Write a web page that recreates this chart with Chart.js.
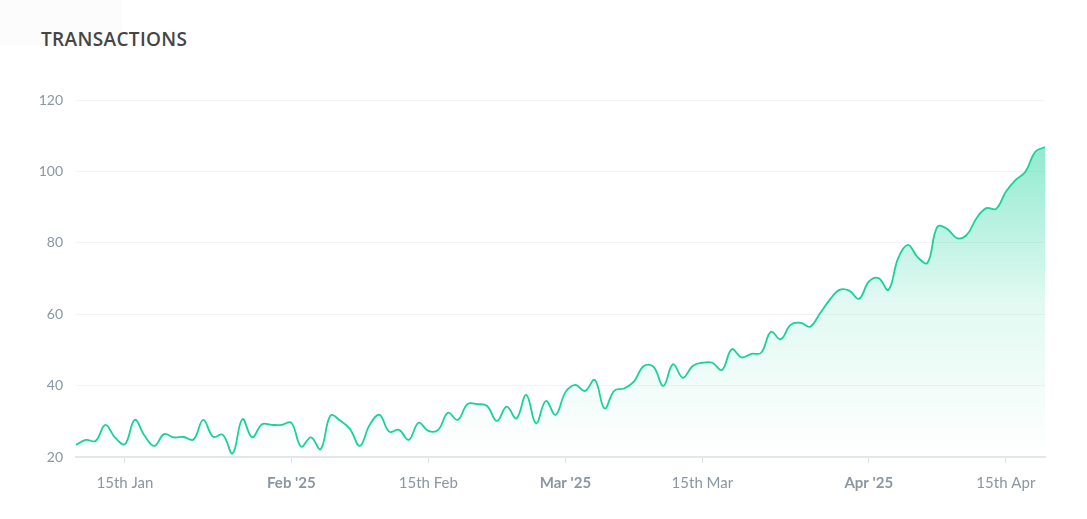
<!DOCTYPE html>
<html>
<head>
<meta charset="utf-8">
<script src="https://cdn.jsdelivr.net/npm/chart.js@4"></script>
<style>
  html, body { margin: 0; padding: 0; background: #fff; }
  #wrap { position: relative; width: 1087px; height: 519px; overflow: hidden; }
  #shade { position: absolute; left: 0; top: 0; width: 122px; height: 45px; background: #fcfcfc; }
  #title {
    position: absolute; left: 41px; top: 26px;
    font-family: "Open Sans", sans-serif; font-weight: 600; font-size: 19px;
    color: #454545; letter-spacing: 0.35px;
  }
  canvas { position: absolute; left: 0; top: 0; }
</style>
</head>
<body>
<div id="wrap">
  <div id="shade"></div>
  <div id="title">TRANSACTIONS</div>
  <canvas id="chart" width="1087" height="519"></canvas>
</div>
<script>
// data: one value per day, starting 10 Jan 2025
const startDate = "2025-01-10";
const transactions = [
  23.4, 24.8, 24.5, 29.0, 25.4, 23.6, 30.4, 26.0, 23.1, 26.4,
  25.5, 25.6, 24.9, 30.4, 25.7, 26.2, 21.0, 30.6, 25.5, 29.2,
  29.0, 29.0, 29.6, 22.9, 25.5, 22.2, 31.6, 30.2, 27.8, 23.1,
  29.0, 31.8, 27.1, 27.6, 24.8, 29.6, 27.3, 27.6, 32.4, 30.4,
  34.8, 34.8, 34.3, 30.1, 34.1, 30.8, 37.4, 29.4, 35.7, 31.8,
  38.1, 40.2, 38.5, 41.6, 33.6, 38.6, 39.2, 41.1, 45.5, 45.3,
  39.9, 46.0, 42.2, 45.5, 46.4, 46.4, 44.4, 50.2, 47.9, 48.9,
  49.2, 55.1, 53.0, 57.0, 57.6, 56.5, 60.2, 64.0, 66.8, 66.6,
  64.3, 69.1, 70.1, 66.8, 75.7, 79.4, 75.9, 74.4, 84.5, 83.9,
  81.3, 82.2, 86.9, 89.7, 89.5, 94.3, 97.6, 99.9, 105.5, 106.8
];

// x-axis ticks
const tickDates = ["2025-01-15", "2025-02-01", "2025-02-15", "2025-03-01", "2025-03-15", "2025-04-01", "2025-04-15"];
const tickLabels = ["15th Jan", "Feb '25", "15th Feb", "Mar '25", "15th Mar", "Apr '25", "15th Apr"];
const monthTicks = ["Feb '25", "Mar '25", "Apr '25"];

// y-axis
const yMin = 20;
const yMax = 120;
const yStep = 20;

const DAY = 86400000;
const dayIndex = d => Math.round((Date.parse(d) - Date.parse(startDate)) / DAY);
const tickDays = tickDates.map(dayIndex);
const points = transactions.map((v, i) => ({ x: i, y: v }));

const lineColor = "#17d399";

function areaFill(context) {
  const { ctx, chartArea } = context.chart;
  if (!chartArea) return "rgba(23,211,153,0.2)";
  const g = ctx.createLinearGradient(0, chartArea.top + 45, 0, chartArea.bottom);
  g.addColorStop(0, "rgba(23,211,153,0.48)");
  g.addColorStop(0.5, "rgba(23,211,153,0.13)");
  g.addColorStop(1, "rgba(23,211,153,0)");
  return g;
}

new Chart(document.getElementById("chart"), {
  type: "line",
  data: {
    datasets: [{
      data: points,
      borderColor: lineColor,
      borderWidth: 1.8,
      backgroundColor: areaFill,
      fill: "start",
      tension: 0.4,
      pointRadius: 0
    }]
  },
  options: {
    responsive: false,
    animation: false,
    layout: { padding: { top: 100, right: 42, bottom: 0, left: 0 } },
    plugins: { legend: { display: false }, tooltip: { enabled: false } },
    scales: {
      x: {
        type: "linear",
        min: 0,
        max: transactions.length - 1,
        afterBuildTicks: scale => { scale.ticks = tickDays.map(v => ({ value: v })); },
        afterFit: scale => { scale.height = 62; },
        grid: { drawOnChartArea: false, drawTicks: true, tickLength: 6, color: "#dde1e6" },
        border: { display: true, color: "#e3e6ea", width: 2 },
        ticks: {
          autoSkip: false,
          maxRotation: 0,
          padding: 11,
          color: "#8a96a3",
          font: ctx => ({
            family: "Lato, sans-serif",
            size: 15,
            weight: monthTicks.includes(tickLabels[tickDays.indexOf(ctx.tick && ctx.tick.value)]) ? "bold" : "normal"
          }),
          callback: v => tickLabels[tickDays.indexOf(v)]
        }
      },
      y: {
        min: yMin,
        max: yMax,
        afterFit: scale => { scale.width = 76; },
        grid: { color: "#f3f4f6", drawTicks: false },
        border: { display: false },
        ticks: {
          stepSize: yStep,
          padding: 13,
          color: "#8a96a3",
          font: { family: "Lato, sans-serif", size: 14 }
        }
      }
    }
  }
});
</script>
</body>
</html>
